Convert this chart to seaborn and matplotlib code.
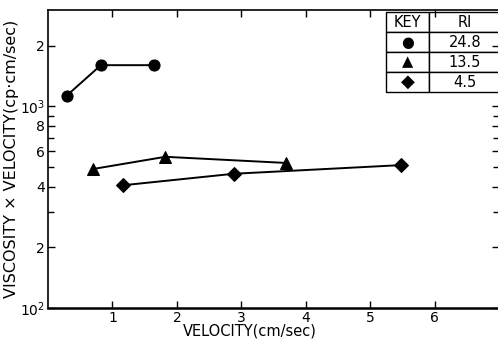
import matplotlib
matplotlib.use("Agg")
import matplotlib.pyplot as plt
import matplotlib.ticker as mticker
import seaborn as sns
import pandas as pd

# === DATA ===
ri_labels = ["24.8", "13.5", "4.5"]
circle_x = [0.29, 0.82, 1.65]
circle_y = [1130, 1600, 1600]
triangle_x = [0.70, 1.82, 3.69]
triangle_y = [489, 562, 524]
diamond_x = [1.16, 2.88, 5.47]
diamond_y = [406, 463, 511]

ytick_vals = [100, 200, 400, 600, 800, 1000, 2000]
ytick_labels = [r"$10^2$", "2", "4", "6", "8", r"$10^3$", "2"]
yminor_vals = [300, 500, 700, 900]
xtick_vals = [1, 2, 3, 4, 5, 6]

df = pd.concat([
    pd.DataFrame({"v": circle_x, "vv": circle_y, "RI": ri_labels[0]}),
    pd.DataFrame({"v": triangle_x, "vv": triangle_y, "RI": ri_labels[1]}),
    pd.DataFrame({"v": diamond_x, "vv": diamond_y, "RI": ri_labels[2]}),
], ignore_index=True)

# === PLOTTING ===
sns.set_style("ticks")
plt.rcParams["font.family"] = ["DejaVu Sans"]
plt.rcParams["mathtext.default"] = "regular"
plt.rcParams["text.color"] = "black"
plt.rcParams["axes.labelcolor"] = "black"
plt.rcParams["xtick.color"] = "black"
plt.rcParams["ytick.color"] = "black"

fig = plt.figure(figsize=(4.98, 3.49), dpi=100)
ax = fig.add_axes([0.0964, 0.1175, 0.906, 0.8535])

marker_map = {ri_labels[0]: "o", ri_labels[1]: "^", ri_labels[2]: "D"}
size_map = {ri_labels[0]: 8, ri_labels[1]: 8, ri_labels[2]: 7}
for ri in ri_labels:
    sub = df[df["RI"] == ri]
    sns.lineplot(data=sub, x="v", y="vv", ax=ax, color="black", lw=1.4,
                 marker=marker_map[ri], markersize=size_map[ri],
                 markeredgecolor="black", sort=False, legend=False)

ax.set_yscale("log")
ax.set_xlim(0, 7)
ax.set_ylim(100, 3000)
ax.set_xticks(xtick_vals)
ax.set_xticklabels([str(t) for t in xtick_vals])
ax.yaxis.set_major_locator(mticker.FixedLocator(ytick_vals))
ax.yaxis.set_major_formatter(mticker.FixedFormatter(ytick_labels))
ax.yaxis.set_minor_locator(mticker.FixedLocator(yminor_vals))
ax.yaxis.set_minor_formatter(mticker.NullFormatter())
ax.tick_params(axis="both", which="both", direction="in", top=True, right=True,
               labelsize=10, width=1, color="black", labelcolor="black", pad=2)
ax.tick_params(axis="both", which="major", length=5)
ax.tick_params(axis="both", which="minor", length=4)
for s in ax.spines.values():
    s.set_linewidth(1.2)
    s.set_color("black")
ax.spines["bottom"].set_linewidth(1.8)

ax.set_xlabel("VELOCITY(cm/sec)", fontsize=10.5, color="black")
ax.xaxis.set_label_coords(0.447, -0.052)
ax.set_ylabel("VISCOSITY \u00d7 VELOCITY(cp\u00b7cm/sec)", fontsize=11.5,
              color="black", labelpad=1)

# key table
cells = [["\u25cf", ri_labels[0]], ["\u25b2", ri_labels[1]], ["\u25c6", ri_labels[2]]]
tbl = ax.table(cellText=cells, colLabels=["KEY", "RI"], cellLoc="center",
               colWidths=[0.38, 0.62], bbox=[0.749, 0.725, 0.253, 0.268])
tbl.auto_set_font_size(False)
tbl.set_fontsize(10.5)
for (r, c), cell in tbl.get_celld().items():
    cell.set_linewidth(1.0)
    cell.set_edgecolor("black")
    cell.get_text().set_color("black")
    if r == 3 and c == 0:
        cell.get_text().set_fontsize(13)

fig.savefig("out.png", dpi=100)
